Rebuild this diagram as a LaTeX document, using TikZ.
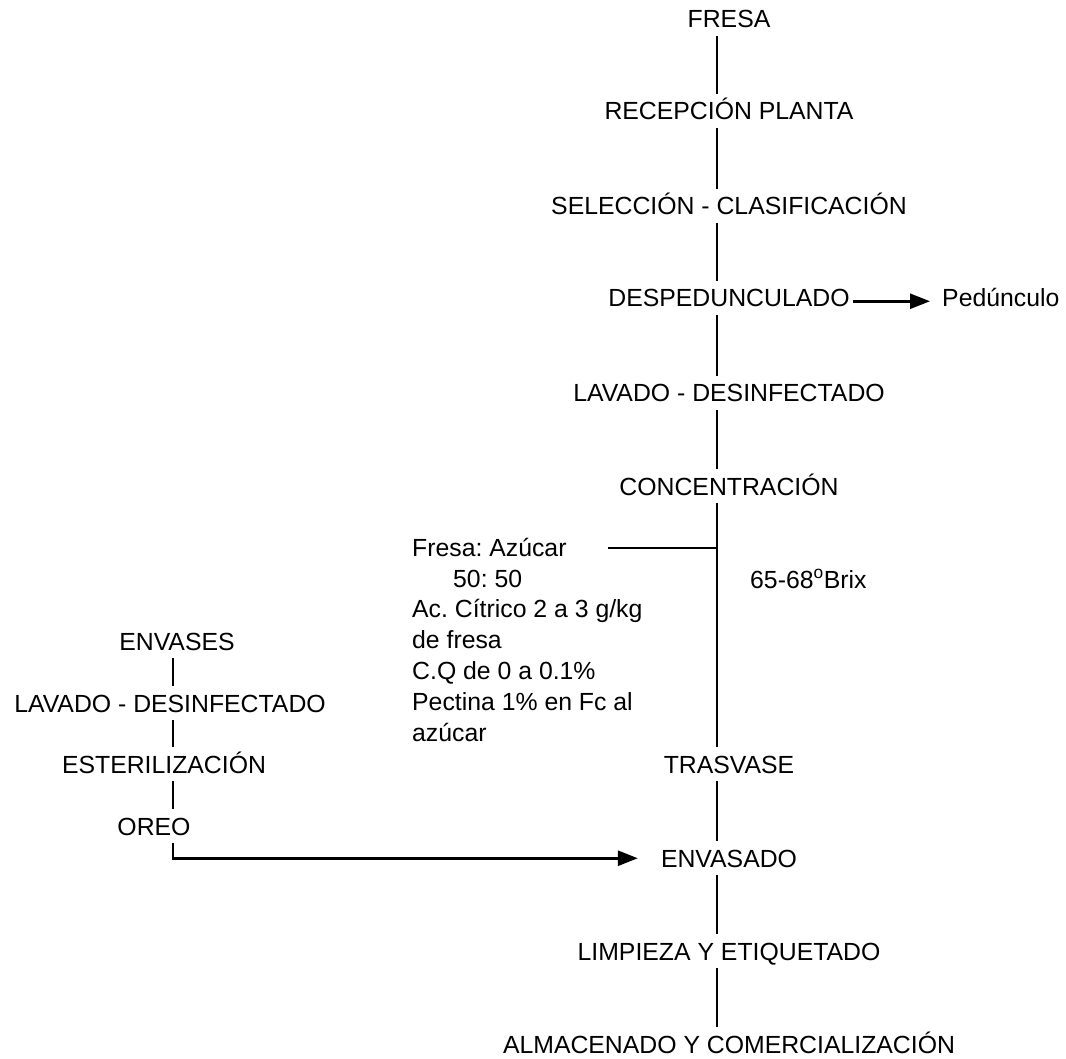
\documentclass[tikz,border=0pt]{standalone}
\usepackage{fontspec}
\setmainfont{Liberation Sans}
\usetikzlibrary{arrows.meta}
\frenchspacing
\tikzset{
  stepnode/.style={font=\fontsize{24.8}{30.8}\selectfont, text height=17.5pt, text depth=0pt,
    inner xsep=3pt, inner ysep=8pt, anchor=base},
  notebox/.style={font=\fontsize{24.8}{30.8}\selectfont\frenchspacing, align=left, inner sep=0pt, anchor=base west},
  flow/.style={line width=1.3pt},
  arr/.style={line width=2.6pt, -{Triangle[length=20pt,width=15pt]}}
}
\begin{document}
\begin{tikzpicture}[x=1pt,y=-1pt]
\useasboundingbox (0,0) rectangle (1066,1059);
\coordinate (axis) at (717,0);
\coordinate (laxis) at (173,0);
% main column
\node[stepnode] (fresa) at (729,28) {FRESA};
\node[stepnode] (recep) at (729,120) {RECEPCIÓN PLANTA};
\node[stepnode] (selec) at (729,215) {SELECCIÓN - CLASIFICACIÓN};
\node[stepnode] (desped) at (729,307) {DESPEDUNCULADO};
\node[stepnode] (lavado) at (729,402) {LAVADO - DESINFECTADO};
\node[stepnode] (conc) at (729,495) {CONCENTRACIÓN};
\node[stepnode] (tras) at (729,773) {TRASVASE};
\node[stepnode] (envas) at (729,867) {ENVASADO};
\node[stepnode] (limp) at (729,960) {LIMPIEZA Y ETIQUETADO};
\node[stepnode] (almac) at (729,1053) {ALMACENADO Y COMERCIALIZACIÓN};
\node[stepnode, anchor=base west, inner xsep=0pt] (ped) at (942,307) {Pedúnculo};
% notes (base anchor = baseline of last line)
\node[notebox] (ingr) at (412,741) {Fresa: Azúcar\\\hspace*{41pt}50: 50\\Ac. Cítrico 2 a 3 g/kg\\de fresa\\C.Q de 0 a 0.1\%\\Pectina 1\% en Fc al\\azúcar};
\node[notebox] (brix) at (750,588) {65-68\textsuperscript{o}Brix};
% left column
\node[stepnode] (envases) at (177,650) {ENVASES};
\node[stepnode] (lav2) at (170,712) {LAVADO - DESINFECTADO};
\node[stepnode] (ester) at (164,773) {ESTERILIZACIÓN};
\node[stepnode] (oreo) at (154,835) {OREO};
% main connectors
\draw[flow] (fresa.south -| axis) -- (recep.north -| axis);
\draw[flow] (recep.south -| axis) -- (selec.north -| axis);
\draw[flow] (selec.south -| axis) -- (desped.north -| axis);
\draw[flow] (desped.south -| axis) -- (lavado.north -| axis);
\draw[flow] (lavado.south -| axis) -- (conc.north -| axis);
\draw[flow] (conc.south -| axis) -- (tras.north -| axis);
\draw[flow] (tras.south -| axis) -- (envas.north -| axis);
\draw[flow] (envas.south -| axis) -- (limp.north -| axis);
\draw[flow] (limp.south -| axis) -- (almac.north -| axis);
% ingredient branch
\coordinate (brs) at (608,548);
\coordinate (brj) at (717,548);
\draw[flow] (brs) -- (brj);
% side output
\draw[arr, shorten >=12pt] ([yshift=-3pt]desped.east) -- ([yshift=-3pt]ped.west);
% left connectors
\draw[flow] (envases.south -| laxis) -- (lav2.north -| laxis);
\draw[flow] (lav2.south -| laxis) -- (ester.north -| laxis);
\draw[flow] (ester.south -| laxis) -- (oreo.north -| laxis);
\draw[arr, shorten >=20pt] (oreo.south -| laxis) |- (envas.west);
\end{tikzpicture}
\end{document}
